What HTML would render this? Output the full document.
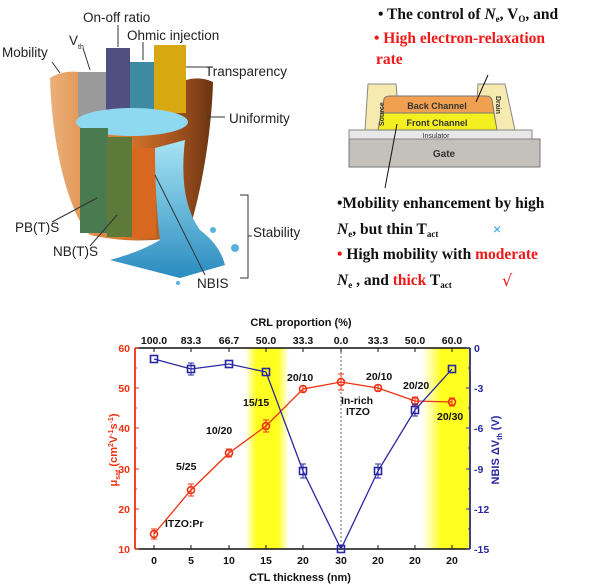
<!DOCTYPE html>
<html><head><meta charset="utf-8"><style>
html,body{margin:0;padding:0;background:#fff;}
svg{display:block;}
</style></head><body>
<svg width="600" height="584" viewBox="0 0 600 584" xmlns="http://www.w3.org/2000/svg">
<defs>
<linearGradient id="yb" x1="0" x2="1" y1="0" y2="0">
<stop offset="0" stop-color="#ffff30" stop-opacity="0"/><stop offset="0.25" stop-color="#ffff20"/><stop offset="0.75" stop-color="#ffff20"/><stop offset="1" stop-color="#ffff30" stop-opacity="0"/></linearGradient>
<linearGradient id="yb2" x1="0" x2="1" y1="0" y2="0">
<stop offset="0" stop-color="#ffff30" stop-opacity="0"/><stop offset="0.4" stop-color="#ffff20"/><stop offset="1" stop-color="#ffff20"/></linearGradient>
<linearGradient id="cup" x1="0" x2="1"><stop offset="0" stop-color="#eab07a"/><stop offset="0.45" stop-color="#d8782c"/><stop offset="0.75" stop-color="#a85620"/><stop offset="1" stop-color="#6a3412"/></linearGradient>
<linearGradient id="water" x1="0" x2="0" y1="0" y2="1"><stop offset="0" stop-color="#a8e4f4"/><stop offset="1" stop-color="#2a8cc0"/></linearGradient>
</defs>
<!-- Bucket -->
<path d="M50,78 C52,150 70,215 90,235 Q140,246 188,235 C205,180 212,120 213,82 Q200,76 186,80 L186,112 L80,112 L80,72 Q62,70 50,78 Z" fill="url(#cup)"/>
<rect x="78" y="72" width="30" height="45" fill="#9a9a9a"/>
<rect x="106" y="48" width="24" height="65" fill="#505080"/>
<rect x="130" y="62" width="24" height="50" fill="#3e8aa0"/>
<rect x="154" y="45" width="32" height="68" fill="#d8a810"/>
<ellipse cx="132" cy="122" rx="56" ry="14" fill="#8ed8f0"/>
<rect x="80" y="128" width="28" height="105" fill="#4a7a50"/>
<rect x="107" y="137" width="25" height="100" fill="#5e7a3a"/>
<rect x="132" y="148" width="24" height="90" fill="#d86820"/>
<path d="M155,148 L185,140 Q178,200 200,230 Q220,245 225,265 L180,278 L110,260 Q140,252 160,240 Q155,200 155,148 Z" fill="url(#water)"/>
<circle cx="235" cy="248" r="4" fill="#5ab0e0"/><circle cx="213" cy="230" r="3" fill="#5ab0e0"/><circle cx="178" cy="283" r="2" fill="#5ab0e0"/>
<g font-family="Liberation Sans, sans-serif" font-size="13.5" fill="#222">
<text x="2" y="57">Mobility</text>
<text x="69" y="45">V<tspan font-size="7" dy="4">th</tspan></text>
<text x="83" y="22">On-off ratio</text>
<text x="127" y="40">Ohmic injection</text>
<text x="205" y="76">Transparency</text>
<text x="229" y="123">Uniformity</text>
<text x="15" y="232">PB(T)S</text>
<text x="53" y="256">NB(T)S</text>
<text x="197" y="288">NBIS</text>
<text x="253" y="237">Stability</text>
</g>
<g stroke="#333" stroke-width="1" fill="none">
<path d="M52,62 L60,73"/><path d="M83,48 L90,70"/><path d="M118,25 L118,47"/><path d="M143,42 L143,60"/><path d="M186,67 L205,67"/><path d="M207,117 L225,117"/>
<path d="M52,222 L97,198"/><path d="M90,246 L117,215"/><path d="M155,175 L205,275"/>
<path d="M240,195 L248,195 L248,278 L240,278 M248,236 L252,236"/>
</g>
<!-- top-right text -->
<g font-family="Liberation Serif, serif" font-weight="bold" font-size="15.5">
<text x="378" y="19" fill="#111">• The control of <tspan font-style="italic">N</tspan><tspan font-size="9" dy="3">e</tspan><tspan dy="-3">, V</tspan><tspan font-size="9" dy="3">O</tspan><tspan dy="-3">, and</tspan></text>
<text x="374" y="43" fill="#f01818">• High electron-relaxation</text>
<text x="376" y="64" fill="#f01818">rate</text>
<text x="337" y="208" fill="#111">•Mobility enhancement by high</text>
<text x="337" y="234" fill="#111"><tspan font-style="italic">N</tspan><tspan font-size="9" dy="3">e</tspan><tspan dy="-3">, but thin T</tspan><tspan font-size="9" dy="3">act</tspan></text>
<text x="337" y="259" fill="#111"><tspan fill="#f01818">•</tspan> High mobility with <tspan fill="#f01818">moderate</tspan></text>
<text x="337" y="285" fill="#111"><tspan font-style="italic">N</tspan><tspan font-size="9" dy="3">e</tspan><tspan dy="-3"> , and </tspan><tspan fill="#f01818">thick</tspan> T<tspan font-size="9" dy="3">act</tspan></text>
</g>
<text x="493" y="234" font-family="Liberation Sans, sans-serif" font-size="14" fill="#2aa0e8">×</text>
<text x="502" y="286" font-family="DejaVu Sans, sans-serif" font-size="16" fill="#f01818">√</text>
<!-- device -->
<rect x="349" y="139" width="191" height="28" fill="#c4c0bb" stroke="#777"/>
<rect x="349" y="130" width="183" height="9" fill="#e8e8e8" stroke="#888"/>
<path d="M365,130 L368,84 L396,84 L400,130 Z" fill="#f6eab0" stroke="#888"/>
<path d="M475,130 L478,84 L505,84 L515,130 Z" fill="#f6eab0" stroke="#888"/>
<path d="M378,130 L381,113 L494,113 L497,130 Z" fill="#f4f020" stroke="#777"/>
<path d="M381,113 L384,99 Q385,96 390,96 L486,96 Q491,96 492,100 L494,113 Z" fill="#f0a050" stroke="#777"/>
<g font-family="Liberation Sans, sans-serif" font-weight="bold" fill="#333">
<text x="437" y="109" font-size="9" text-anchor="middle">Back Channel</text>
<text x="437" y="126" font-size="9" text-anchor="middle">Front Channel</text>
<text x="436" y="138" font-size="7" text-anchor="middle" font-weight="normal">Insulator</text>
<text x="444" y="157" font-size="10" text-anchor="middle">Gate</text>
<text x="0" y="0" font-size="7" transform="translate(384,126) rotate(-90)">Source</text>
<text x="0" y="0" font-size="7" transform="translate(496,96) rotate(90)">Drain</text>
</g>
<path d="M488,75 L476,102 M397,124 L385,188" stroke="#111" stroke-width="1"/>
<!-- chart -->
<rect x="245" y="348" width="44" height="201" fill="url(#yb)"/>
<rect x="422" y="348" width="48" height="201" fill="url(#yb2)"/>
<line x1="341" y1="348" x2="341" y2="549" stroke="#666" stroke-dasharray="2,2"/>
<line x1="135" y1="348" x2="470" y2="348" stroke="#111" stroke-width="1.5"/>
<line x1="135" y1="549" x2="470" y2="549" stroke="#111" stroke-width="1.5"/>
<line x1="135" y1="348" x2="135" y2="549" stroke="#f03010" stroke-width="1.8"/>
<line x1="470" y1="348" x2="470" y2="549" stroke="#2828a0" stroke-width="1.8"/>
<g stroke="#111" stroke-width="1">
<path d="M154,549v-4M191,549v-4M229,549v-4M266,549v-4M303,549v-4M341,549v-4M378,549v-4M415,549v-4M452,549v-4"/>
<path d="M154,348v4M191,348v4M229,348v4M266,348v4M303,348v4M341,348v4M378,348v4M415,348v4M452,348v4"/>
</g>
<g stroke="#f03010" stroke-width="1"><path d="M135,348h4M135,388h4M135,428h4M135,469h4M135,509h4M135,549h4M135,368h2M135,408h2M135,448h2M135,489h2M135,529h2"/></g>
<g stroke="#2828a0" stroke-width="1"><path d="M470,348h-4M470,388h-4M470,428h-4M470,469h-4M470,509h-4M470,549h-4M470,368h-2M470,408h-2M470,448h-2M470,489h-2M470,529h-2"/></g>
<g font-family="Liberation Sans, sans-serif" font-weight="bold" font-size="10.5">
<g fill="#f03010" text-anchor="end"><text x="130" y="352">60</text><text x="130" y="392">50</text><text x="130" y="432">40</text><text x="130" y="473">30</text><text x="130" y="513">20</text><text x="130" y="553">10</text></g>
<g fill="#2828a0"><text x="474" y="352">0</text><text x="474" y="392">-3</text><text x="474" y="432">-6</text><text x="474" y="473">-9</text><text x="474" y="513">-12</text><text x="474" y="553">-15</text></g>
<g fill="#111" text-anchor="middle">
<text x="154" y="564">0</text><text x="191" y="564">5</text><text x="229" y="564">10</text><text x="266" y="564">15</text><text x="303" y="564">20</text><text x="341" y="564">30</text><text x="378" y="564">20</text><text x="415" y="564">20</text><text x="452" y="564">20</text>
<text x="154" y="344">100.0</text><text x="191" y="344">83.3</text><text x="229" y="344">66.7</text><text x="266" y="344">50.0</text><text x="303" y="344">33.3</text><text x="341" y="344">0.0</text><text x="378" y="344">33.3</text><text x="415" y="344">50.0</text><text x="452" y="344">60.0</text>
<text x="301" y="326" font-size="11">CRL proportion (%)</text>
<text x="300" y="581" font-size="11">CTL thickness (nm)</text>
</g>
<g fill="#111" font-size="10.5">
<text x="165" y="527">ITZO:Pr</text><text x="176" y="470">5/25</text><text x="206" y="434">10/20</text><text x="243" y="406">15/15</text><text x="287" y="381">20/10</text><text x="366" y="380">20/10</text><text x="403" y="389">20/20</text><text x="437" y="420">20/30</text>
<text x="341" y="404">In-rich</text><text x="346" y="415">ITZO</text>
</g>
<text transform="translate(117,450) rotate(-90)" text-anchor="middle" fill="#f03010" font-size="11">μ<tspan font-size="7" dy="3">sat</tspan><tspan dy="-3"> (cm</tspan><tspan font-size="7" dy="-4">2</tspan><tspan dy="4">V</tspan><tspan font-size="7" dy="-4">-1</tspan><tspan dy="4">s</tspan><tspan font-size="7" dy="-4">-1</tspan><tspan dy="4">)</tspan></text>
<text transform="translate(499,450) rotate(-90)" text-anchor="middle" fill="#2828a0" font-size="11">NBIS ΔV<tspan font-size="7" dy="3">th</tspan><tspan dy="-3"> (V)</tspan></text>
</g>
<!-- series -->
<polyline fill="none" stroke="#f03010" stroke-width="1.3" points="154,534 191,490 229,453 266,426 303,389 341,382 378,388 415,401 452,402"/>
<polyline fill="none" stroke="#2828a0" stroke-width="1.3" points="154,359 191,369 229,364 266,372 303,471 341,549 378,471 415,410 452,369"/>
<g stroke="#f03010" stroke-width="1" fill="none">
<path d="M154,529v10M151,529h6M151,539h6M191,484v12M188,484h6M188,496h6M229,449v8M226,449h6M226,457h6M266,420v12M263,420h6M263,432h6M303,386v6M300,386h6M300,392h6M341,374v16M338,374h6M338,390h6M378,385v6M375,385h6M375,391h6M415,397v8M412,397h6M412,405h6M452,398v8M449,398h6M449,406h6"/>
<g stroke-width="1.6"><circle cx="154" cy="534" r="3.5"/><circle cx="191" cy="490" r="3.5"/><circle cx="229" cy="453" r="3.5"/><circle cx="266" cy="426" r="3.5"/><circle cx="303" cy="389" r="3.5"/><circle cx="341" cy="382" r="3.5"/><circle cx="378" cy="388" r="3.5"/><circle cx="415" cy="401" r="3.5"/><circle cx="452" cy="402" r="3.5"/></g>
</g>
<g stroke="#2828a0" stroke-width="1.6" fill="none">
<rect x="150.5" y="355.5" width="7" height="7"/><rect x="187.5" y="365.5" width="7" height="7"/><rect x="225.5" y="360.5" width="7" height="7"/><rect x="262.5" y="368.5" width="7" height="7"/><rect x="299.5" y="467.5" width="7" height="7"/><rect x="337.5" y="545.5" width="7" height="7"/><rect x="374.5" y="467.5" width="7" height="7"/><rect x="411.5" y="406.5" width="7" height="7"/><rect x="448.5" y="365.5" width="7" height="7"/>
<path stroke-width="1" d="M191,363v12M188,363h6M188,375h6M303,464v14M300,464h6M300,478h6M378,464v14M375,464h6M375,478h6M415,404v12M412,404h6M412,416h6"/>
</g>
</svg>
</body></html>
